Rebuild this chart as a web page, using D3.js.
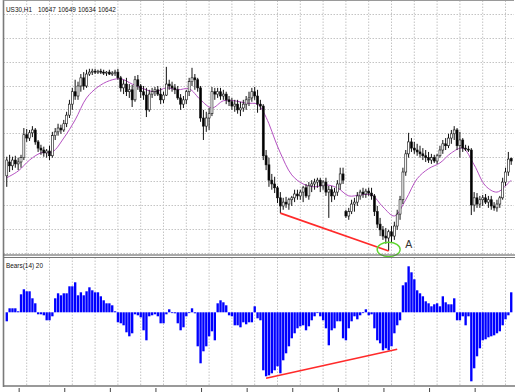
<!DOCTYPE html>
<html><head><meta charset="utf-8">
<script src="https://cdn.jsdelivr.net/npm/d3@7"></script>
<style>html,body{margin:0;padding:0;background:#fff;overflow:hidden}text{font-family:"Liberation Sans",Arial,sans-serif}</style>
</head><body><svg id="c" width="515" height="392"></svg>
<script>
// ---- data ----
const titleParts = ["US30,H1", "10647", "10649", "10634", "10642"];
const indicatorLabel = "Bears(14) 20";
const opens = [10611,10640,10632,10644,10636,10640,10649,10697,10690,10701,
10707,10682,10669,10665,10659,10663,10653,10695,10703,10711,
10707,10720,10738,10761,10787,10778,10799,10816,10799,10824,
10828,10830,10828,10830,10828,10826,10828,10824,10826,10828,
10816,10795,10803,10787,10791,10770,10812,10799,10787,10780,
10749,10782,10787,10791,10782,10770,10780,10803,10799,10795,
10791,10774,10761,10770,10787,10808,10816,10812,10795,10732,
10715,10732,10741,10787,10782,10787,10778,10782,10770,10766,
10757,10761,10749,10753,10761,10770,10774,10787,10778,10761,
10757,10653,10634,10602,10594,10586,10565,10548,10556,10552,
10561,10565,10573,10569,10577,10586,10569,10590,10594,10598,
10602,10590,10598,10577,10582,10569,10577,10594,10615,10536,
10527,10536,10552,10556,10569,10577,10573,10579,10575,10569,
10536,10510,10498,10485,10481,10494,10485,10506,10531,10561,
10619,10657,10682,10669,10665,10661,10657,10653,10649,10644,
10649,10642,10653,10665,10678,10674,10690,10699,10707,10674,
10686,10669,10667,10665,10550,10565,10552,10561,10565,10556,
10561,10548,10544,10552,10565,10598,10619,10647];
const highs = [10651,10655,10651,10653,10649,10655,10711,10709,10707,10715,
10711,10686,10676,10672,10667,10674,10703,10711,10720,10718,
10728,10745,10770,10795,10812,10808,10824,10828,10833,10835,
10835,10835,10833,10835,10833,10830,10833,10830,10833,10835,
10820,10812,10816,10803,10801,10820,10822,10803,10799,10795,
10791,10795,10797,10799,10795,10787,10839,10812,10808,10803,
10799,10782,10778,10791,10816,10837,10824,10816,10799,10749,
10745,10753,10797,10795,10795,10795,10791,10787,10778,10774,
10770,10770,10766,10770,10778,10787,10795,10797,10791,10770,
10761,10665,10649,10615,10609,10590,10577,10565,10567,10565,
10569,10582,10582,10582,10590,10594,10598,10602,10605,10607,
10607,10602,10607,10590,10590,10586,10602,10628,10628,10540,
10544,10561,10565,10577,10582,10586,10584,10586,10586,10573,
10548,10523,10506,10502,10498,10506,10515,10540,10569,10628,
10665,10701,10690,10682,10678,10674,10669,10665,10661,10657,
10655,10657,10674,10686,10690,10699,10707,10715,10711,10703,
10690,10676,10674,10669,10577,10575,10569,10571,10573,10569,
10569,10556,10561,10569,10607,10628,10661,10649];
const lows = [10588,10619,10623,10628,10623,10628,10644,10682,10684,10692,
10676,10661,10655,10651,10649,10644,10649,10686,10695,10699,
10703,10713,10732,10749,10770,10770,10787,10791,10795,10820,
10822,10824,10824,10824,10822,10820,10822,10820,10820,10812,
10787,10782,10778,10774,10755,10766,10791,10774,10770,10734,
10745,10774,10778,10778,10761,10763,10778,10791,10787,10782,
10770,10749,10753,10761,10778,10799,10791,10787,10724,10686,
10703,10707,10736,10770,10774,10770,10770,10761,10757,10749,
10745,10741,10736,10745,10749,10757,10766,10770,10743,10749,
10644,10623,10588,10582,10575,10554,10533,10540,10544,10540,
10548,10556,10561,10561,10556,10565,10561,10577,10582,10586,
10577,10582,10569,10523,10556,10561,10569,10582,10594,10523,
10519,10531,10536,10548,10561,10565,10565,10569,10561,10527,
10502,10485,10477,10469,10454,10471,10477,10498,10519,10552,
10611,10649,10661,10657,10653,10649,10644,10640,10638,10636,
10638,10636,10649,10657,10665,10669,10678,10686,10665,10649,
10661,10663,10661,10529,10536,10544,10544,10548,10552,10544,
10540,10538,10536,10544,10561,10590,10611,10634];
const closes = [10644,10632,10644,10636,10640,10649,10697,10690,10701,10707,
10682,10669,10665,10659,10663,10653,10695,10703,10711,10707,
10720,10738,10761,10787,10778,10799,10816,10799,10824,10828,
10830,10828,10830,10828,10826,10828,10824,10826,10828,10816,
10795,10803,10787,10791,10770,10812,10799,10787,10780,10749,
10782,10787,10791,10782,10770,10780,10803,10799,10795,10791,
10774,10761,10770,10787,10808,10816,10812,10795,10732,10715,
10732,10741,10787,10782,10787,10778,10782,10770,10766,10757,
10761,10749,10753,10761,10770,10774,10787,10778,10761,10757,
10653,10634,10602,10594,10586,10565,10548,10556,10552,10561,
10565,10573,10569,10577,10586,10569,10590,10594,10598,10602,
10590,10598,10577,10582,10569,10577,10594,10615,10602,10527,
10536,10552,10556,10569,10577,10573,10579,10575,10569,10536,
10510,10498,10485,10481,10494,10485,10506,10531,10561,10619,
10657,10682,10669,10665,10661,10657,10653,10649,10644,10649,
10642,10653,10665,10678,10674,10690,10699,10707,10674,10686,
10669,10667,10665,10550,10565,10552,10561,10565,10556,10561,
10548,10544,10552,10565,10598,10619,10646,10642];
const maBars = [0,4,8,12,16,20,24,28,32,36,40,44,48,52,56,60,64,68,72,76,80,84,88,90,92,94,96,100,104,108,112,116,120,124,128,132,136,140,144,148,152,156,160,164,168,172,176,177];
const maValues = [10607,10621,10644,10659,10661,10690,10728,10774,10797,10810,10814,10803,10793,10787,10795,10791,10793,10770,10753,10768,10768,10763,10761,10745,10720,10688,10659,10613,10594,10588,10592,10586,10569,10571,10571,10546,10527,10561,10605,10626,10638,10659,10669,10634,10590,10577,10596,10602];
const bears = [-9,4,4,4,1,18,23,21,21,14,
9,-2,-2,-3,-8,-8,-4,14,19,17,
19,19,26,26,30,17,20,17,21,25,
22,20,20,16,12,9,9,7,1,-10,
-11,-13,-20,-24,-21,-2,-3,-5,-18,-28,
-4,-3,-2,-4,-11,-11,-2,3,0,-1,
-11,-18,-15,-4,0,4,-1,-34,-51,-39,
-34,-24,-19,-28,9,12,10,7,-3,-4,
-13,-13,-15,-10,-12,-10,-10,6,-6,-8,
-58,-64,-63,-61,-58,-54,-61,-48,-41,-34,
-26,-21,-16,-14,-13,-18,-14,-8,-4,0,
-4,-8,-16,-33,-18,-16,-9,-9,-26,-28,
-16,-9,-4,-7,-3,0,3,-3,-2,-16,
-28,-31,-38,-36,-38,-34,-21,-13,-8,27,
30,46,40,33,22,19,16,11,9,6,
8,9,6,16,10,8,8,14,-8,-8,
-4,-13,-4,-69,-56,-44,-36,-28,-27,-25,
-24,-23,-21,-19,-13,-7,-3,20];
const gridPrices = [10450,10500,10550,10600,10650,10700,10750,10800,10850,10900,10950];
// annotations: [barIndex, value]
const priceTrend = [[96,10533],[134,10454]];
const bearsTrend = [[91,-66],[137,-37]];
const markBar = 134, markPrice = 10454, markText = "A";

// ---- scales ----
const n = closes.length;
const x = d3.scaleLinear().domain([0, n - 1]).range([6.75, 6.75 + 2.85 * (n - 1)]);
const y = d3.scaleLinear().domain([10450, 10950]).range([252.8, 13.8]);
const yb = d3.scaleLinear().domain([0, 50]).range([312.3, 262.3]);

const svg = d3.select("#c");
svg.append("rect").attr("width",515).attr("height",392).attr("fill","#fff");

const L = 3.5, R = 514, T = 0.5, MB = 255, IT = 257.5, B = 386;

// grids
const grid = svg.append("g").attr("stroke","#c4c4c4").attr("stroke-width",1).attr("stroke-dasharray","1.5,1.5");
grid.selectAll("line.h").data(gridPrices).join("line")
  .attr("x1",L).attr("x2",R).attr("y1",d=>Math.round(y(d))+0.5).attr("y2",d=>Math.round(y(d))+0.5);
const vgrid = d3.range(7, n, 8);
grid.selectAll("line.v1").data(vgrid).join("line")
  .attr("x1",d=>x(d)).attr("x2",d=>x(d)).attr("y1",T).attr("y2",MB);
grid.selectAll("line.v2").data(vgrid).join("line").attr("class","v2")
  .attr("x1",d=>x(d)).attr("x2",d=>x(d)).attr("y1",IT).attr("y2",B);

// moving average
svg.append("path").datum(maBars.map((b,i)=>[b,maValues[i]]))
  .attr("fill","none").attr("stroke","#b552c2").attr("stroke-width",1)
  .attr("d", d3.line().x(d=>x(d[0])).y(d=>y(d[1])).curve(d3.curveCatmullRom));

// candles
const idx = d3.range(n);
const cg = svg.append("g");
cg.selectAll("line").data(idx).join("line")
  .attr("x1",i=>x(i)).attr("x2",i=>x(i)).attr("y1",i=>y(highs[i])).attr("y2",i=>y(lows[i]))
  .attr("stroke","#111").attr("stroke-width",1);
cg.selectAll("rect").data(idx).join("rect")
  .attr("x",i=>x(i)-1).attr("width",2)
  .attr("y",i=>y(Math.max(opens[i],closes[i])))
  .attr("height",i=>Math.max(1, Math.abs(y(opens[i])-y(closes[i]))))
  .attr("fill",i=>closes[i]>=opens[i]?"#fff":"#000")
  .attr("stroke","#111").attr("stroke-width",0.6);

// bears histogram
svg.append("g").selectAll("rect").data(idx).join("rect")
  .attr("x",i=>x(i)-1.15).attr("width",2.35)
  .attr("y",i=>Math.min(yb(0),yb(bears[i])))
  .attr("height",i=>Math.max(0.8,Math.abs(yb(bears[i])-yb(0))))
  .attr("fill","#0000ff");

// annotations
svg.append("path").datum(priceTrend).attr("fill","none").attr("stroke","#ff2a2a").attr("stroke-width",1.6)
  .attr("d", d3.line().x(d=>x(d[0])).y(d=>y(d[1])));
svg.append("path").datum(bearsTrend).attr("fill","none").attr("stroke","#ff2a2a").attr("stroke-width",1.6)
  .attr("d", d3.line().x(d=>x(d[0])).y(d=>yb(d[1])));
svg.append("ellipse").attr("cx",x(markBar)).attr("cy",y(markPrice)-1.5).attr("rx",11.5).attr("ry",7.2)
  .attr("fill","none").attr("stroke","#5fd630").attr("stroke-width",1.4);
svg.append("text").attr("x",x(markBar)+16.5).attr("y",y(markPrice)-3).attr("font-size",10.5).attr("fill","#333").text(markText);

// frames
const fr = svg.append("g").attr("fill","none");
fr.append("line").attr("x1",L).attr("x2",L).attr("y1",0).attr("y2",B+1).attr("stroke","#7a7a7a").attr("stroke-width",1.6);
fr.append("line").attr("x1",L).attr("x2",R).attr("y1",T).attr("y2",T).attr("stroke","#9a9a9a").attr("stroke-width",1);
fr.append("line").attr("x1",L).attr("x2",515).attr("y1",MB).attr("y2",MB).attr("stroke","#555").attr("stroke-width",1.2);
fr.append("line").attr("x1",L).attr("x2",515).attr("y1",IT).attr("y2",IT).attr("stroke","#777").attr("stroke-width",1);
fr.append("line").attr("x1",L).attr("x2",515).attr("y1",B).attr("y2",B).attr("stroke","#777").attr("stroke-width",1.5);

// bottom tick marks
svg.append("g").selectAll("line").data(d3.range(4, n, 16)).join("line")
  .attr("x1",i=>x(i)+1).attr("x2",i=>x(i)+1).attr("y1",388).attr("y2",392)
  .attr("stroke","#444").attr("stroke-width",1);

// texts
const tx = [6, 38, 58, 78, 98];
svg.append("g").selectAll("text").data(titleParts).join("text")
  .attr("x",(d,i)=>tx[i]).attr("y",11.5).attr("font-size",6.4).attr("fill","#111").text(d=>d);
svg.append("text").attr("x",6).attr("y",267.5).attr("font-size",6.4).attr("fill","#111").text(indicatorLabel);
</script>
</body></html>
